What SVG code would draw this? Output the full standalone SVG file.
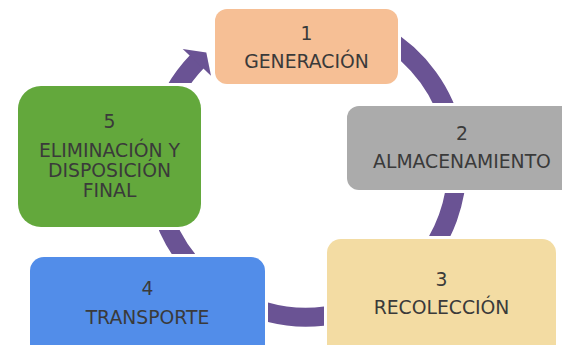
<svg xmlns="http://www.w3.org/2000/svg" width="562" height="345" viewBox="0 0 562 345">
  <style>
    .arc { fill: none; stroke: #6A5394; stroke-width: 19; stroke-linecap: butt; }
    .head { fill: #6A5394; }
    .lbl { font-family: "DejaVu Sans", "Verdana", sans-serif; font-size: 18.8px; fill: #3A3A3A; text-anchor: middle; }
  </style>
  <defs>
    <clipPath id="gaps">
      <path clip-rule="evenodd" d="M0 0H562V345H0Z M212 6H401V87H212Z M344 103H562V193H344Z M324 236H562V345H324Z M27 254H268V345H27Z M15 83H204V230H15Z"/>
    </clipPath>
  </defs>
  <g id="connectors" clip-path="url(#gaps)">
    <path class="arc" d="M381.5 35.2 A151 151 0 0 1 453.7 134.6"/>
    <path class="arc" d="M457 166 A151 151 0 0 1 421.7 263.1"/>
    <path class="arc" d="M345.1 311.9 A151 151 0 0 1 249.4 306"/>
    <path class="arc" d="M199.2 272.8 A151 151 0 0 1 160.1 205.1"/>
    <path class="arc" d="M160.1 126.9 A151 151 0 0 1 197.4 61.1"/>
    <polygon class="head" points="182.7,49 206.3,52.6 211,75.8"/>
  </g>
  <g id="node1">
    <rect x="215" y="9" width="183" height="75" rx="12" fill="#F6BF95"/>
    <text class="lbl" x="306.5" y="39.5">1</text>
    <text class="lbl" x="306.5" y="68">GENERACIÓN</text>
  </g>
  <g id="node2">
    <rect x="347" y="106" width="229" height="84" rx="12" fill="#ABABAB"/>
    <text class="lbl" x="462" y="140">2</text>
    <text class="lbl" x="462" y="168">ALMACENAMIENTO</text>
  </g>
  <g id="node3">
    <rect x="327" y="239" width="229" height="120" rx="14" fill="#F3DCA3"/>
    <text class="lbl" x="441.5" y="286">3</text>
    <text class="lbl" x="441.5" y="314">RECOLECCIÓN</text>
  </g>
  <g id="node4">
    <rect x="30" y="257" width="235" height="110" rx="14" fill="#528DE9"/>
    <text class="lbl" x="147.5" y="295">4</text>
    <text class="lbl" x="147.5" y="324">TRANSPORTE</text>
  </g>
  <g id="node5">
    <rect x="18" y="86" width="183" height="141" rx="23" fill="#63A83C"/>
    <text class="lbl" x="109.5" y="128">5</text>
    <text class="lbl" x="109.5" y="157.3">ELIMINACIÓN Y</text>
    <text class="lbl" x="109.5" y="177.3">DISPOSICIÓN</text>
    <text class="lbl" x="109.5" y="197.3">FINAL</text>
  </g>
</svg>
